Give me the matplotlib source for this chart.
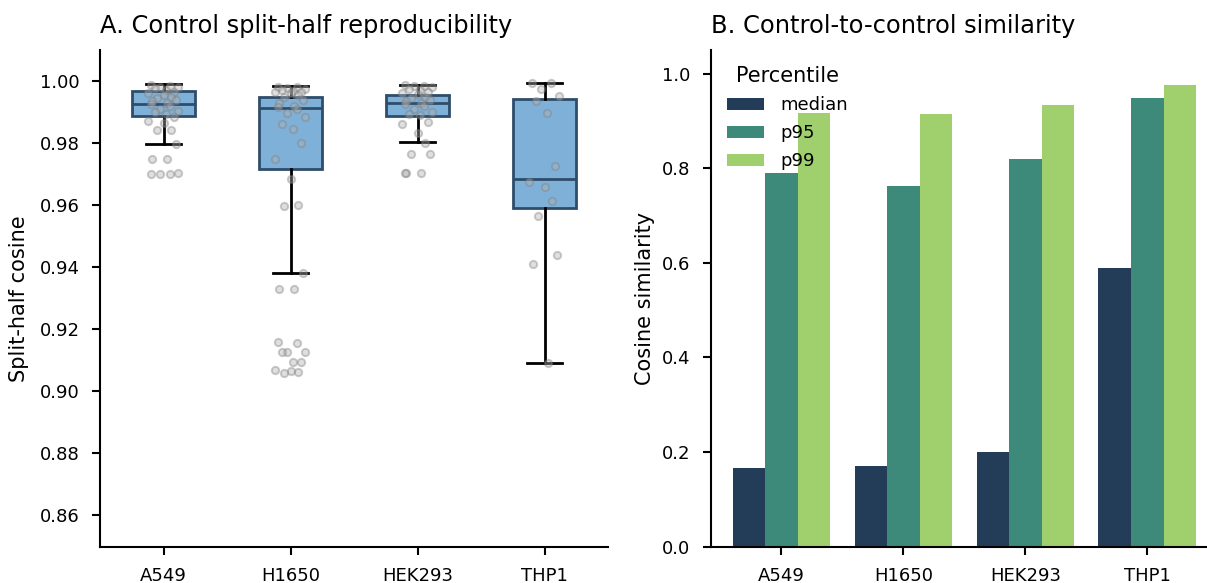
import matplotlib.pyplot as plt
import numpy as np

cell_lines = ['A549', 'H1650', 'HEK293', 'THP1']

# box summaries
box_whislo = [0.9798, 0.9380, 0.9804, 0.9090]
box_q1 = [0.9888, 0.9717, 0.9888, 0.9592]
box_med = [0.9926, 0.9913, 0.9930, 0.9685]
box_q3 = [0.9968, 0.9949, 0.9955, 0.9942]
box_whishi = [0.9990, 0.9984, 0.9987, 0.9994]

# individual split-half values (jittered points)
pts_A549 = [0.9988, 0.9985, 0.9982, 0.9980, 0.9976, 0.9970, 0.9965, 0.9960, 0.9955,
            0.9950, 0.9945, 0.9940, 0.9935, 0.9930, 0.9925, 0.9920, 0.9910, 0.9905,
            0.9900, 0.9895, 0.9885, 0.9870, 0.9865, 0.9843, 0.9843, 0.9798, 0.9750,
            0.9750, 0.9702, 0.9702, 0.9700, 0.9705]
pts_H1650 = [0.9982, 0.9980, 0.9978, 0.9975, 0.9970, 0.9968, 0.9966, 0.9964, 0.9960,
             0.9955, 0.9950, 0.9940, 0.9930, 0.9920, 0.9915, 0.9910, 0.9898, 0.9885,
             0.9860, 0.9846, 0.9800, 0.9750, 0.9685, 0.9600, 0.9598, 0.9380, 0.9330,
             0.9330, 0.9159, 0.9155, 0.9128, 0.9128, 0.9128, 0.9096, 0.9096, 0.9068,
             0.9065, 0.9062, 0.9060]
pts_HEK293 = [0.9987, 0.9985, 0.9983, 0.9980, 0.9975, 0.9970, 0.9965, 0.9960, 0.9958,
              0.9950, 0.9945, 0.9940, 0.9935, 0.9930, 0.9925, 0.9920, 0.9910, 0.9900,
              0.9895, 0.9890, 0.9868, 0.9860, 0.9834, 0.9800, 0.9765, 0.9765, 0.9705,
              0.9705, 0.9703]
pts_THP1 = [0.9995, 0.9993, 0.9974, 0.9952, 0.9936, 0.9898, 0.9725, 0.9674, 0.9660,
            0.9615, 0.9566, 0.9438, 0.9409, 0.9090]
points = [pts_A549, pts_H1650, pts_HEK293, pts_THP1]

# panel B
percentiles = ['median', 'p95', 'p99']
sim_median = [0.167, 0.170, 0.199, 0.589]
sim_p95 = [0.790, 0.763, 0.820, 0.948]
sim_p99 = [0.917, 0.914, 0.933, 0.975]
bar_colors = ['#233d58', '#3d8a7a', '#a0cf6e']

jitter = [-0.10, 0.05, -0.03, 0.11, -0.07, 0.02, 0.08, -0.12, 0.0, 0.06, -0.05, 0.10, -0.09, 0.03]

plt.rcParams['font.family'] = 'DejaVu Sans'
fig = plt.figure(figsize=(12.07, 5.83), dpi=100)
ax1 = fig.add_axes([0.0829, 0.0626, 0.4209, 0.8516])
ax2 = fig.add_axes([0.5888, 0.0626, 0.4112, 0.8516])

# ---- A: boxes + points
stats = []
for i in range(len(cell_lines)):
    stats.append({'whislo': box_whislo[i], 'q1': box_q1[i], 'med': box_med[i],
                  'q3': box_q3[i], 'whishi': box_whishi[i], 'fliers': []})
ax1.bxp(stats, positions=range(4), widths=0.5, patch_artist=True, showfliers=False,
        boxprops=dict(facecolor='#7fb0d8', edgecolor='#2e4d6b', linewidth=2),
        medianprops=dict(color='#2e4d6b', linewidth=2),
        whiskerprops=dict(color='black', linewidth=2),
        capprops=dict(color='black', linewidth=2), capwidths=0.27)
for i, vals in enumerate(points):
    xs = [i + jitter[k % len(jitter)] for k in range(len(vals))]
    ax1.scatter(xs, vals, s=28, facecolor='#b0b0b0', edgecolor='#808080', alpha=0.4,
                linewidth=1.4, zorder=3)

ax1.set_xlim(-0.5, 3.5)
ax1.set_ylim(0.85, 1.01)
ax1.set_yticks([0.86, 0.88, 0.90, 0.92, 0.94, 0.96, 0.98, 1.00])
ax1.set_xticks(range(4))
ax1.set_xticklabels(cell_lines)
ax1.set_ylabel('Split-half cosine', fontsize=15, labelpad=8)
ax1.set_title('A. Control split-half reproducibility', fontsize=17.4, loc='left', pad=12)

# ---- B: grouped bars
x = np.arange(len(cell_lines))
w = 0.8 / 3
for j, (name, vals) in enumerate(zip(percentiles, [sim_median, sim_p95, sim_p99])):
    ax2.bar(x + (j - 1) * w, vals, width=w, color=bar_colors[j], label=name)
ax2.set_xlim(-0.58, 3.49)
ax2.set_ylim(0, 1.05)
ax2.set_yticks([0.0, 0.2, 0.4, 0.6, 0.8, 1.0])
ax2.set_xticks(x)
ax2.set_xticklabels(cell_lines)
ax2.set_ylabel('Cosine similarity', fontsize=15, labelpad=5)
ax2.set_title('B. Control-to-control similarity', fontsize=17.4, loc='left', pad=12)
ax2.legend(title='Percentile', frameon=False, loc='upper left', fontsize=13,
           title_fontsize=15, handlelength=2.05, handleheight=0.67,
           handletextpad=0.9, labelspacing=0.55)

for ax in (ax1, ax2):
    ax.spines['top'].set_visible(False)
    ax.spines['right'].set_visible(False)
    ax.spines['left'].set_linewidth(1.5)
    ax.spines['bottom'].set_linewidth(1.5)
    ax.tick_params(labelsize=13, width=1.5, length=6, pad=8.5)

fig.savefig('out.png', dpi=100)
